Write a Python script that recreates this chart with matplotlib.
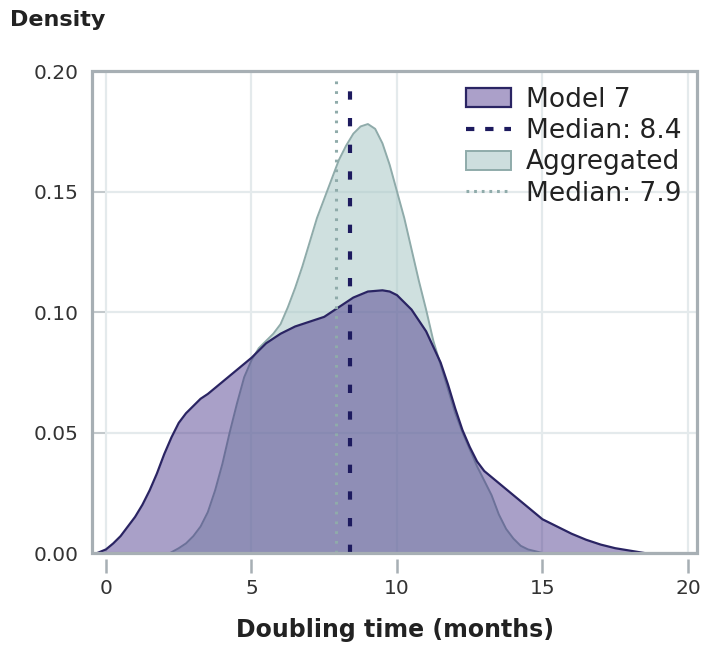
import matplotlib
matplotlib.use("Agg")
import matplotlib.pyplot as plt
from matplotlib.patches import Patch, Rectangle
from matplotlib.lines import Line2D

plt.rcParams.update({
    "font.family": ["DejaVu Sans"],
    "font.size": 14.5,
})

# density curves (x in months, y density)
MODEL_X = [-0.3, 0.0, 0.25, 0.5, 0.75, 1.0, 1.25, 1.5, 1.75, 2.0, 2.25, 2.5, 2.75,
           3.0, 3.25, 3.5, 4.0, 4.5, 5.0, 5.5, 6.0, 6.5, 7.0, 7.5, 7.75, 8.0,
           8.5, 9.0, 9.5, 9.75, 10.0, 10.5, 11.0, 11.5, 11.75, 12.0, 12.25,
           12.5, 12.75, 13.0, 13.5, 14.0, 14.5, 15.0, 15.5, 16.0, 16.5, 17.0,
           17.5, 18.0, 18.5]
MODEL_Y = [0.0, 0.0015, 0.004, 0.007, 0.011, 0.015, 0.020, 0.026, 0.033, 0.041,
           0.048, 0.054, 0.058, 0.061, 0.064, 0.066, 0.071, 0.076, 0.081, 0.087,
           0.091, 0.094, 0.096, 0.098, 0.100, 0.102, 0.106, 0.1085, 0.109,
           0.1085, 0.107, 0.101, 0.092, 0.079, 0.070, 0.060, 0.051, 0.044,
           0.038, 0.034, 0.029, 0.024, 0.019, 0.014, 0.011, 0.008, 0.0055,
           0.0035, 0.002, 0.001, 0.0]

AGG_X = [2.2, 2.5, 2.75, 3.0, 3.25, 3.5, 3.75, 4.0, 4.25, 4.5, 4.75, 5.0, 5.25,
         5.5, 5.75, 6.0, 6.25, 6.5, 6.75, 7.0, 7.25, 7.5, 7.75, 8.0, 8.25, 8.5,
         8.75, 9.0, 9.25, 9.5, 9.75, 10.0, 10.25, 10.5, 10.75, 11.0, 11.25,
         11.5, 11.75, 12.0, 12.25, 12.5, 12.75, 13.0, 13.25, 13.5, 13.75, 14.0,
         14.25, 14.5, 15.0]
AGG_Y = [0.0, 0.002, 0.004, 0.007, 0.011, 0.017, 0.026, 0.037, 0.050, 0.062,
         0.073, 0.080, 0.085, 0.088, 0.091, 0.095, 0.102, 0.110, 0.119, 0.129,
         0.139, 0.147, 0.155, 0.163, 0.169, 0.174, 0.177, 0.178, 0.176, 0.170,
         0.161, 0.150, 0.139, 0.126, 0.113, 0.101, 0.088, 0.078, 0.068, 0.058,
         0.050, 0.043, 0.036, 0.030, 0.024, 0.016, 0.010, 0.006, 0.003,
         0.0015, 0.0]

MEDIAN_MODEL = 8.4
MEDIAN_AGG = 7.9
X_TICKS = [0, 5, 10, 15, 20]
Y_TICKS = [0.00, 0.05, 0.10, 0.15, 0.20]

PURPLE = "#422c85"
PURPLE_EDGE = "#2a2463"
TEAL = "#a8c8c6"
TEAL_EDGE = "#8fabaa"
SPINE = "#a7afb4"
GRID = "#e4eaec"

fig = plt.figure(figsize=(7.02, 6.45), dpi=100)
ax = fig.add_axes([0.1311, 0.1426, 0.8618, 0.7473])

ax.fill_between(AGG_X, AGG_Y, color=TEAL, alpha=0.55, lw=0, zorder=2)
ax.plot(AGG_X, AGG_Y, color=TEAL_EDGE, lw=1.4, zorder=2.1)
ax.fill_between(MODEL_X, MODEL_Y, color=PURPLE, alpha=0.45, lw=0, zorder=3)
ax.plot(MODEL_X, MODEL_Y, color=PURPLE_EDGE, lw=1.6, zorder=3.1)

ax.plot([MEDIAN_AGG, MEDIAN_AGG], [0, 0.197], color=TEAL_EDGE, lw=2.2,
        linestyle=(0, (0.9, 2.3)), zorder=4)
ax.plot([MEDIAN_MODEL, MEDIAN_MODEL], [0, 0.193], color="#1d1a5e", lw=3.0,
        linestyle=(0, (2.0, 4.4)), zorder=4.1)

ax.set_xlim(-0.48, 20.31)
ax.set_ylim(0, 0.2)
ax.set_xticks(X_TICKS)
ax.set_yticks(Y_TICKS)
ax.set_yticklabels([f"{v:.2f}" for v in Y_TICKS])
ax.grid(True, color=GRID, lw=1.6, zorder=0)
ax.set_axisbelow(True)

for s in ax.spines.values():
    s.set_visible(False)
ax.spines["bottom"].set_position(("outward", 4))
ax.add_patch(Rectangle((0, 0), 1, 1, transform=ax.transAxes, fill=False,
                       ec=SPINE, lw=2.3, zorder=6, clip_on=False))

ax.tick_params(axis="x", direction="out", length=10, width=1.8, color=SPINE,
               pad=5, labelsize=14.5, labelcolor="#333333")
ax.tick_params(axis="y", direction="in", length=9, width=1.4, color="#c3c9cc",
               pad=10, labelsize=14.5, labelcolor="#333333")

ax.set_xlabel("Doubling time (months)", fontsize=17, fontweight="bold",
              color="#222222", labelpad=14)
fig.text(0.014, 0.985, "Density", fontsize=16, fontweight="bold",
         color="#222222", ha="left", va="top")

handles = [
    Patch(facecolor="#aba0c9", edgecolor=PURPLE_EDGE, lw=1.6),
    Line2D([], [], color="#1d1a5e", lw=3.0, linestyle=(0, (2.0, 2.6))),
    Patch(facecolor="#cddede", edgecolor=TEAL_EDGE, lw=1.4),
    Line2D([], [], color=TEAL_EDGE, lw=2.2, linestyle=(0, (0.9, 1.6))),
]
labels = ["Model 7", f"Median: {MEDIAN_MODEL}", "Aggregated", f"Median: {MEDIAN_AGG}"]
ax.legend(handles, labels, loc="upper right", bbox_to_anchor=(1.0, 1.0),
          frameon=False, fontsize=19, handlelength=1.7, handleheight=0.75,
          handletextpad=0.55, labelspacing=0.2, borderaxespad=0.2,
          labelcolor="#222222")

fig.savefig("out.png", dpi=100)
